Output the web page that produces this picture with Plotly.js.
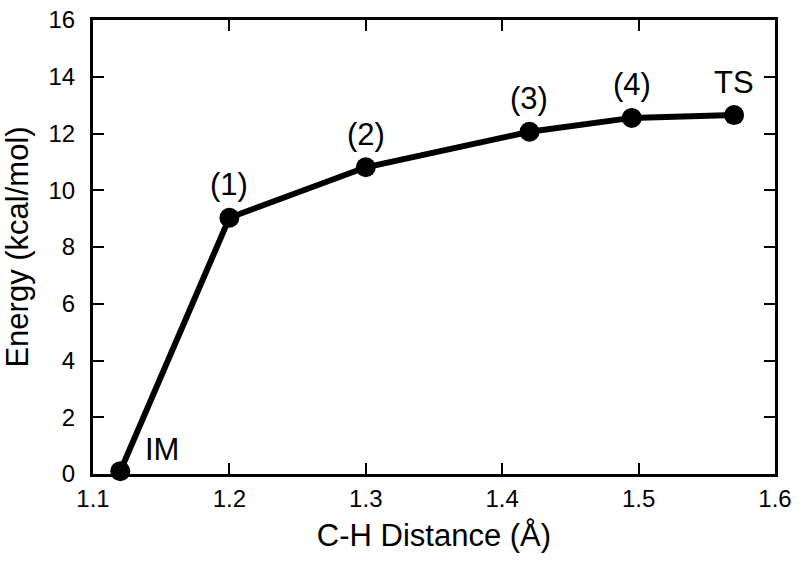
<!DOCTYPE html>
<html>
<head>
<meta charset="utf-8">
<script src="https://cdn.plot.ly/plotly-3.0.1.min.js"></script>
<style>
  html, body { margin: 0; padding: 0; background: #fff; }
  #chart { width: 800px; height: 563px; }
</style>
</head>
<body>
<div id="chart"></div>
<script>
// C-H distance scan: energy profile from IM to TS
const distancia = [1.12, 1.2, 1.3, 1.42, 1.495, 1.57];
const energia = [0.1, 9.03, 10.81, 12.06, 12.55, 12.65];
const rotulos = ['IM', '(1)', '(2)', '(3)', '(4)', 'TS'];

const fonte = 'Liberation Sans, Arial, Helvetica, sans-serif';

const data = [{
    x: distancia,
    y: energia,
    type: 'scatter',
    mode: 'lines+markers',
    line: { color: '#000', width: 6 },
    marker: { color: '#000', size: 20 },
    cliponaxis: false,
    hoverinfo: 'x+y'
}];

// labels sit above each point, IM sits to the upper right
const annotations = rotulos.map(function(txt, i) {
    const ehIM = (i === 0);
    return {
        x: distancia[i],
        y: energia[i],
        xref: 'x',
        yref: 'y',
        text: txt,
        showarrow: false,
        font: { family: fonte, size: 31, color: '#000' },
        xshift: ehIM ? 42 : 0,
        yshift: ehIM ? 22 : 33
    };
});

const eixoComum = {
    showline: true,
    linecolor: '#000',
    linewidth: 3,
    mirror: 'ticks',
    ticks: 'inside',
    ticklen: 11,
    tickwidth: 2,
    tickcolor: '#000',
    showgrid: false,
    zeroline: false,
    tickfont: { family: fonte, size: 24, color: '#000' }
};

const layout = {
    width: 800,
    height: 563,
    paper_bgcolor: '#fff',
    plot_bgcolor: '#fff',
    showlegend: false,
    margin: { l: 93, r: 25, t: 20, b: 89 },
    xaxis: Object.assign({}, eixoComum, {
        range: [1.1, 1.6],
        tickvals: [1.1, 1.2, 1.3, 1.4, 1.5, 1.6],
        ticktext: ['1.1', '1.2', '1.3', '1.4', '1.5', '1.6'],
        ticklabelstandoff: 1,
        title: { text: 'C-H Distance (Å)', font: { family: fonte, size: 31, color: '#000' }, standoff: 14 }
    }),
    yaxis: Object.assign({}, eixoComum, {
        range: [0, 16],
        tickvals: [0, 2, 4, 6, 8, 10, 12, 14, 16],
        ticklabelstandoff: 10,
        title: { text: 'Energy (kcal/mol)', font: { family: fonte, size: 31, color: '#000' }, standoff: 12 }
    }),
    annotations: annotations
};

Plotly.newPlot('chart', data, layout, { displayModeBar: false, staticPlot: true });
</script>
</body>
</html>
